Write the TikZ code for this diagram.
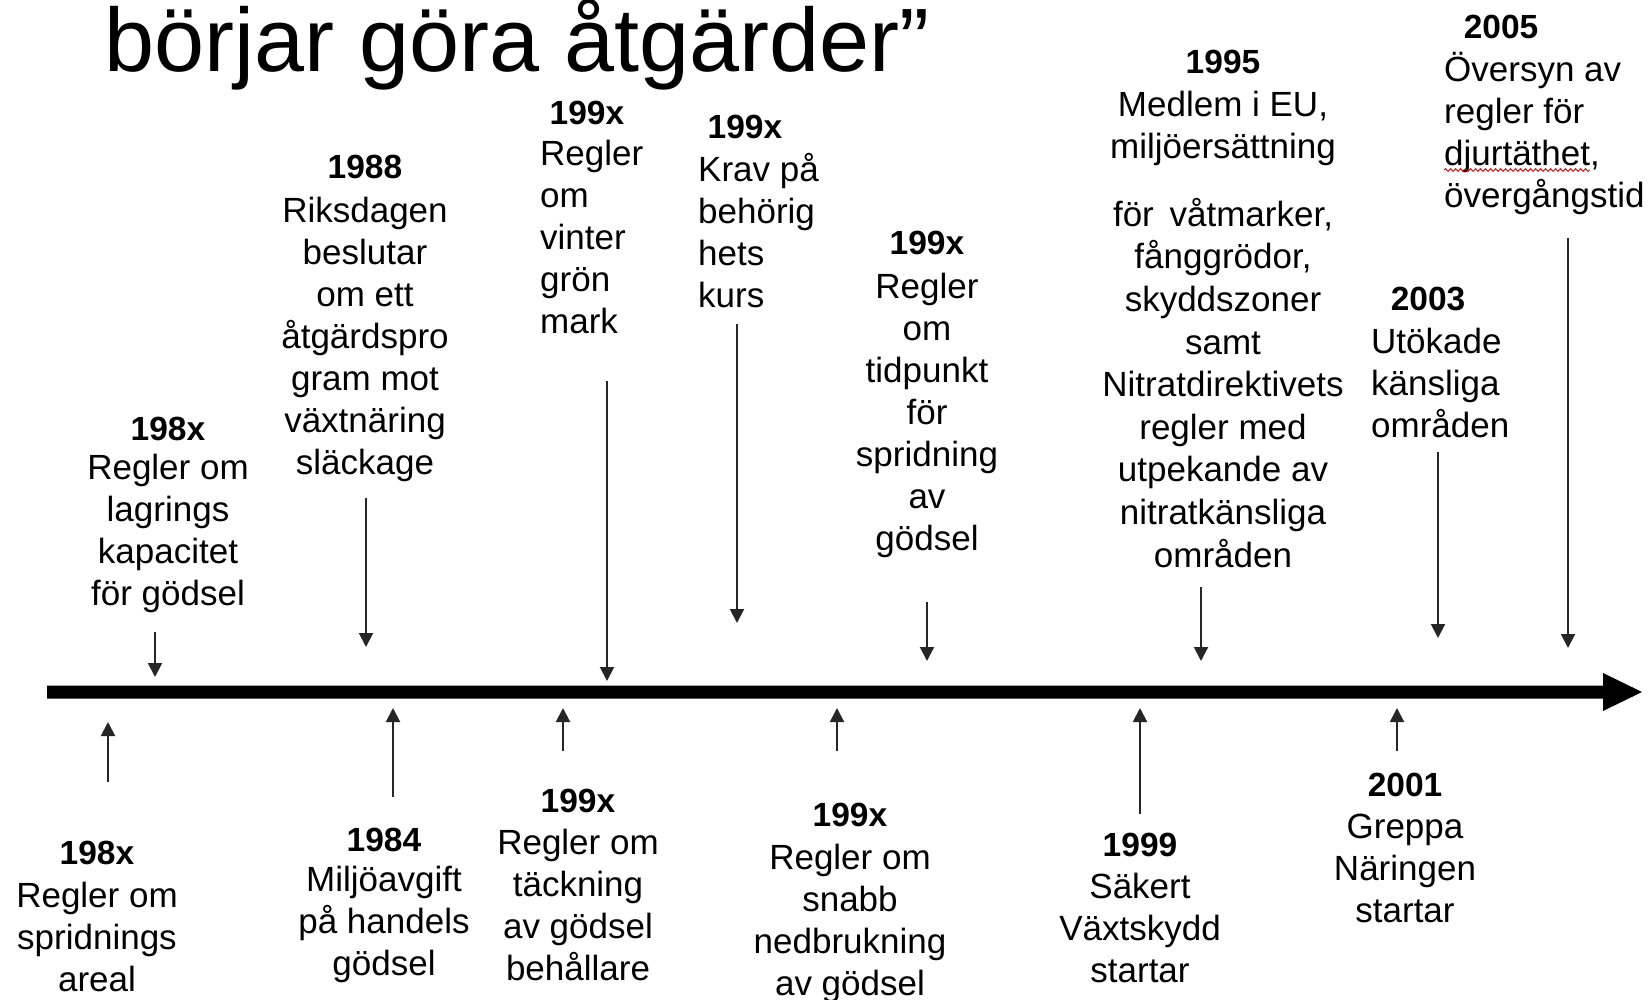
\documentclass[tikz,border=0pt]{standalone}
\usepackage{fontspec}
\setmainfont{Liberation Sans}
\usetikzlibrary{arrows.meta,decorations.pathmorphing}
\begin{document}
\begin{tikzpicture}[x=1pt,y=-1pt,
  yr/.style={font=\bfseries\fontsize{33.5}{41}\selectfont, inner sep=0pt, anchor=base},
  bodyc/.style={font=\fontsize{35}{42}\selectfont, inner sep=0pt, align=center, anchor=base},
  bodyl/.style={font=\fontsize{35}{42}\selectfont, inner sep=0pt, align=left, anchor=base west},
  tick/.style={line width=2pt, draw=black!85, -{Triangle[width=14pt,length=14pt,fill=black!85]}},
  axis/.style={fill=black}]
\useasboundingbox (0,0) rectangle (1650,1000);
\fill[white] (0,0) rectangle (1650,1000);
% title
\node[anchor=base west, inner sep=0pt, font=\fontsize{90}{100}\selectfont] (title) at (104,72) {börjar göra åtgärder”};
% main timeline
\fill[axis] (47,685.5) -- (1603,685.5) -- (1603,673) -- (1642,692) -- (1603,711) -- (1603,698.5) -- (47,698.5) -- cycle;
% ---- top labels (body nodes anchored at the baseline of their last line) ----
\node[yr] (y1) at (168,440) {198x};
\node[bodyc] (t1) at (168,605) {Regler om\\lagrings\\kapacitet\\för gödsel};
\coordinate (a1s) at (155,632); \coordinate (a1e) at (155,677);
\draw[tick] (a1s) -- (a1e);

\node[yr] (y2) at (365,179) {1988};
\node[bodyc] (t2) at (365,474) {Riksdagen\\beslutar\\om ett\\åtgärdspro\\gram mot\\växtnäring\\släckage};
\coordinate (a2s) at (366,498); \coordinate (a2e) at (366,647);
\draw[tick] (a2s) -- (a2e);

\node[yr] (y3) at (587,125) {199x};
\node[bodyl] (t3) at (540,334) {Regler\\om\\vinter\\grön\\mark};
\coordinate (a3s) at (607,381); \coordinate (a3e) at (607,681);
\draw[tick] (a3s) -- (a3e);

\node[yr] (y4) at (745,139) {199x};
\node[bodyl] (t4) at (698,308) {Krav på\\behörig\\hets\\kurs};
\coordinate (a4s) at (737,324); \coordinate (a4e) at (737,623);
\draw[tick] (a4s) -- (a4e);

\node[yr] (y5) at (927,255) {199x};
\node[bodyc] (t5) at (927,550) {Regler\\om\\tidpunkt\\för\\spridning\\av\\gödsel};
\coordinate (a5s) at (927,602); \coordinate (a5e) at (927,661);
\draw[tick] (a5s) -- (a5e);

\node[yr] (y6) at (1223,74) {1995};
\node[bodyc] (t6a) at (1223,159) {Medlem i EU,\\miljöersättning};
\node[bodyc, font=\fontsize{35}{42.6}\selectfont] (t6b) at (1223,567) {för\hspace{0.45em}våtmarker,\\fånggrödor,\\skyddszoner\\samt\\Nitratdirektivets\\regler med\\utpekande av\\nitratkänsliga\\områden};
\coordinate (a6s) at (1201,587); \coordinate (a6e) at (1201,661);
\draw[tick] (a6s) -- (a6e);

\node[yr] (y7) at (1501,39) {2005};
\node[bodyl] (t7) at (1444,208) {Översyn av\\regler för\\djurtäthet,\\övergångstid};
\coordinate (w7s) at (1444,170); \coordinate (w7e) at (1590,170);
\draw[red!85!black, line width=0.9pt, decorate, decoration={snake, amplitude=1.3pt, segment length=5pt}] (w7s) -- (w7e);
\coordinate (a7s) at (1568,238); \coordinate (a7e) at (1568,648);
\draw[tick] (a7s) -- (a7e);

\node[yr] (y8) at (1428,311) {2003};
\node[bodyl] (t8) at (1371,437) {Utökade\\känsliga\\områden};
\coordinate (a8s) at (1438,452); \coordinate (a8e) at (1438,638);
\draw[tick] (a8s) -- (a8e);

% ---- bottom labels ----
\node[yr] (y9) at (97,864) {198x};
\node[bodyc] (t9) at (97,991) {Regler om\\spridnings\\areal};
\coordinate (a9s) at (108,782); \coordinate (a9e) at (108,722);
\draw[tick] (a9s) -- (a9e);

\node[yr] (y10) at (384,851) {1984};
\node[bodyc] (t10) at (384,975) {Miljöavgift\\på handels\\gödsel};
\coordinate (a10s) at (393,797); \coordinate (a10e) at (393,708);
\draw[tick] (a10s) -- (a10e);

\node[yr] (y11) at (578,812) {199x};
\node[bodyc] (t11) at (578,980) {Regler om\\täckning\\av gödsel\\behållare};
\coordinate (a11s) at (563,751); \coordinate (a11e) at (563,708);
\draw[tick] (a11s) -- (a11e);

\node[yr] (y12) at (850,826) {199x};
\node[bodyc] (t12) at (850,995) {Regler om\\snabb\\nedbrukning\\av gödsel};
\coordinate (a12s) at (837,751); \coordinate (a12e) at (837,708);
\draw[tick] (a12s) -- (a12e);

\node[yr] (y13) at (1140,856) {1999};
\node[bodyc] (t13) at (1140,982) {Säkert\\Växtskydd\\startar};
\coordinate (a13s) at (1140,814); \coordinate (a13e) at (1140,708);
\draw[tick] (a13s) -- (a13e);

\node[yr] (y14) at (1405,796) {2001};
\node[bodyc] (t14) at (1405,922) {Greppa\\Näringen\\startar};
\coordinate (a14s) at (1397,751); \coordinate (a14e) at (1397,708);
\draw[tick] (a14s) -- (a14e);
\end{tikzpicture}
\end{document}
